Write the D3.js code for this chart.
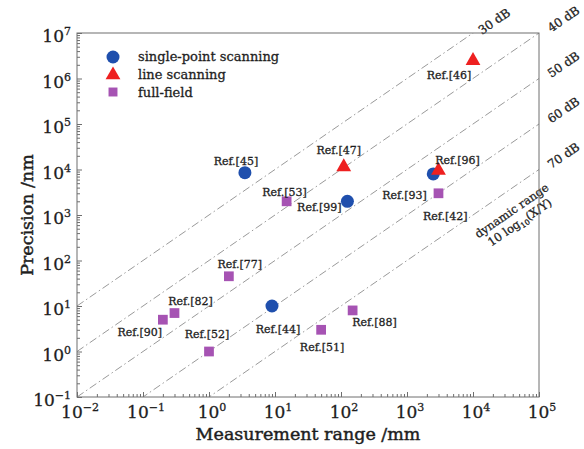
<!DOCTYPE html>
<html>
<head>
<meta charset="utf-8">
<script src="https://cdn.jsdelivr.net/npm/d3@7"></script>
<style>
  body { margin: 0; background: #fff; }
  text { font-family: "DejaVu Serif", serif; fill: #1e1e1e; stroke: #1e1e1e; stroke-width: 0.3px; }
  text.title { stroke-width: 0.45px; }
</style>
</head>
<body>
<svg id="chart" width="584" height="449"></svg>
<script>
// data (x in mm, y in nm)
var singleX = [3.5, 125, 2500, 9];
var singleY = [8500, 2000, 8000, 10];
var singleRef = ["Ref.[45]", "Ref.[99]", "Ref.[42]", "Ref.[44]"];

var lineX = [110, 10000, 3000];
var lineY = [12000, 2600000, 10000];
var lineRef = ["Ref.[47]", "Ref.[46]", "Ref.[96]"];

var fullX = [15, 3000, 2, 0.3, 0.2, 1, 50, 150];
var fullY = [2000, 3000, 45, 7, 5, 1, 3, 8];
var fullRef = ["Ref.[53]", "Ref.[93]", "Ref.[77]", "Ref.[82]", "Ref.[90]", "Ref.[52]", "Ref.[51]", "Ref.[88]"];

var dbLevels = [30, 40, 50, 60, 70];
var xTickExp = [-2, -1, 0, 1, 2, 3, 4, 5];
var yTickExp = [-1, 0, 1, 2, 3, 4, 5, 6, 7];
var legendNames = ["single-point scanning", "line scanning", "full-field"];

// label offsets from the mark (layout only)
var labelOffset = {
    "Ref.[45]": [-9, -8], "Ref.[99]": [-28, 10], "Ref.[42]": [12, 46], "Ref.[44]": [6, 27],
    "Ref.[47]": [-5, -12], "Ref.[46]": [-24, 19], "Ref.[96]": [19, -6],
    "Ref.[53]": [-2, -5], "Ref.[93]": [-34, 6], "Ref.[77]": [11, -8], "Ref.[82]": [16, -8],
    "Ref.[90]": [-23, 16], "Ref.[52]": [-2, -14], "Ref.[51]": [1, 21], "Ref.[88]": [22, 16]
};

var blue = "#1f4fad", red = "#ee2020", purple = "#a653b3";

var svg = d3.select("#chart");
var margin = {left: 77, right: 45, top: 33, bottom: 52};
var W = 584, H = 449;

var x = d3.scaleLog().domain([1e-2, 1e5]).range([margin.left, W - margin.right]);
var y = d3.scaleLog().domain([1e-1, 1e7]).range([H - margin.bottom, margin.top]);

svg.append("clipPath").attr("id", "plotclip")
    .append("rect")
    .attr("x", margin.left).attr("y", margin.top)
    .attr("width", x.range()[1] - margin.left)
    .attr("height", y.range()[0] - margin.top);

// dynamic range lines: y(nm) = x(mm)*1e6 / 10^(dB/10)
function dbY(xv, db) { return xv * 1e6 / Math.pow(10, db / 10); }

svg.append("g")
    .attr("clip-path", "url(#plotclip)")
    .selectAll("line")
    .data(dbLevels)
    .enter()
    .append("line")
    .attr("x1", x(1e-2))
    .attr("y1", function(d) { return y(dbY(1e-2, d)); })
    .attr("x2", x(1e5))
    .attr("y2", function(d) { return y(dbY(1e5, d)); })
    .attr("stroke", "#9a9a9a")
    .attr("stroke-width", 1)
    .attr("stroke-dasharray", "8,3,1.5,3");

var angle = Math.atan2(y(10) - y(1), x(10) - x(1)) * 180 / Math.PI;

// dB labels along the extension of each line
svg.selectAll("text.db")
    .data(dbLevels)
    .enter()
    .append("text")
    .attr("class", "db")
    .attr("transform", function(d) {
        var xv = d == 30 ? Math.pow(10, 4.3) : Math.pow(10, 5.35);
        return "translate(" + x(xv) + "," + y(dbY(xv, d)) + ") rotate(" + angle + ")";
    })
    .attr("text-anchor", "middle")
    .attr("dy", "0.55em")
    .attr("font-size", "12px")
    .text(function(d) { return d + " dB"; });

// dynamic range caption
var cap = svg.append("g")
    .attr("transform", "translate(514,214) rotate(" + angle + ")");
cap.append("text")
    .attr("text-anchor", "middle")
    .attr("font-size", "11.5px")
    .text("dynamic range");
var cap2 = cap.append("text")
    .attr("text-anchor", "middle")
    .attr("y", 14)
    .attr("font-size", "11.5px");
cap2.append("tspan").text("10 log");
cap2.append("tspan").attr("font-size", "7.5px").attr("dy", 3).text("10");
cap2.append("tspan").attr("dy", -3).text("(X/Y)");

// frame
svg.append("rect")
    .attr("x", margin.left).attr("y", margin.top)
    .attr("width", x.range()[1] - margin.left)
    .attr("height", y.range()[0] - margin.top)
    .attr("fill", "none")
    .attr("stroke", "#6e6e6e")
    .attr("stroke-width", 1);

// axes: inward ticks, major and minor
function minorVals(scale) {
    return scale.ticks().filter(function(v) {
        var e = Math.log10(v);
        return Math.abs(e - Math.round(e)) > 1e-6;
    });
}

var xAxisMajor = d3.axisBottom(x).tickValues(xTickExp.map(function(e) { return Math.pow(10, e); }))
    .tickSizeInner(-5).tickSizeOuter(0).tickFormat("");
var xAxisMinor = d3.axisBottom(x).tickValues(minorVals(x))
    .tickSizeInner(-3).tickSizeOuter(0).tickFormat("");
var yAxisMajor = d3.axisLeft(y).tickValues(yTickExp.map(function(e) { return Math.pow(10, e); }))
    .tickSizeInner(-5).tickSizeOuter(0).tickFormat("");
var yAxisMinor = d3.axisLeft(y).tickValues(minorVals(y))
    .tickSizeInner(-3).tickSizeOuter(0).tickFormat("");

[xAxisMajor, xAxisMinor].forEach(function(ax) {
    svg.append("g")
        .attr("class", "x axis")
        .attr("transform", "translate(0," + y.range()[0] + ")")
        .call(ax);
});
[yAxisMajor, yAxisMinor].forEach(function(ax) {
    svg.append("g")
        .attr("class", "y axis")
        .attr("transform", "translate(" + margin.left + ",0)")
        .call(ax);
});
svg.selectAll(".axis path").remove();
svg.selectAll(".axis line").attr("stroke", "#6e6e6e");

function powLabel(sel, e) {
    sel.append("tspan").text("10");
    sel.append("tspan").attr("dy", -7).attr("font-size", "11px")
        .text(e < 0 ? "\u2212" + (-e) : "" + e);
}

svg.selectAll("text.xtick")
    .data(xTickExp)
    .enter()
    .append("text")
    .attr("class", "xtick")
    .attr("x", function(e) { return x(Math.pow(10, e)) + 3; })
    .attr("y", y.range()[0] + 21)
    .attr("text-anchor", "middle")
    .attr("font-size", "17px")
    .each(function(e) { powLabel(d3.select(this), e); });

svg.selectAll("text.ytick")
    .data(yTickExp)
    .enter()
    .append("text")
    .attr("class", "ytick")
    .attr("x", margin.left - 6)
    .attr("y", function(e) { return y(Math.pow(10, e)) + 9; })
    .attr("text-anchor", "end")
    .attr("font-size", "17px")
    .each(function(e) { powLabel(d3.select(this), e); });

// axis titles
svg.append("text")
    .attr("class", "title")
    .attr("x", (x.range()[0] + x.range()[1]) / 2)
    .attr("y", 440)
    .attr("text-anchor", "middle")
    .attr("font-size", "17.5px")
    .text("Measurement range /mm");

svg.append("text")
    .attr("class", "title")
    .attr("transform", "translate(33," + ((y.range()[0] + y.range()[1]) / 2) + ") rotate(-90)")
    .attr("text-anchor", "middle")
    .attr("font-size", "17.5px")
    .text("Precision /nm");

// marks
var tri = d3.symbol().type(d3.symbolTriangle).size(95);
var sq = d3.symbol().type(d3.symbolSquare).size(95);

function rows(xs, ys, refs) {
    return xs.map(function(v, i) { return {x: v, y: ys[i], ref: refs[i]}; });
}
var singleData = rows(singleX, singleY, singleRef);
var lineData = rows(lineX, lineY, lineRef);
var fullData = rows(fullX, fullY, fullRef);

svg.selectAll("path.full")
    .data(fullData)
    .enter()
    .append("path")
    .attr("class", "full")
    .attr("d", sq)
    .attr("transform", function(d) { return "translate(" + x(d.x) + "," + y(d.y) + ")"; })
    .attr("fill", purple);

svg.selectAll("circle.single")
    .data(singleData)
    .enter()
    .append("circle")
    .attr("class", "single")
    .attr("cx", function(d) { return x(d.x); })
    .attr("cy", function(d) { return y(d.y); })
    .attr("r", 6.5)
    .attr("fill", blue);

svg.selectAll("path.linescan")
    .data(lineData)
    .enter()
    .append("path")
    .attr("class", "linescan")
    .attr("d", tri)
    .attr("transform", function(d) { return "translate(" + x(d.x) + "," + (y(d.y) + 1) + ")"; })
    .attr("fill", red);

// reference labels
svg.selectAll("text.ref")
    .data(singleData.concat(lineData, fullData))
    .enter()
    .append("text")
    .attr("class", "ref")
    .attr("x", function(d) { return x(d.x) + labelOffset[d.ref][0]; })
    .attr("y", function(d) { return y(d.y) + labelOffset[d.ref][1]; })
    .attr("text-anchor", "middle")
    .attr("font-size", "11px")
    .text(function(d) { return d.ref; });

// legend
var legend = svg.append("g").attr("transform", "translate(113,57)");
legend.append("circle").attr("cx", 0).attr("cy", 0).attr("r", 6.5).attr("fill", blue);
legend.append("path").attr("d", tri).attr("transform", "translate(0,18)").attr("fill", red);
legend.append("path").attr("d", d3.symbol().type(d3.symbolSquare).size(80)).attr("transform", "translate(0,35)").attr("fill", purple);
legend.selectAll("text")
    .data(legendNames)
    .enter()
    .append("text")
    .attr("x", 25)
    .attr("y", function(d, i) { return 4 + i * 18; })
    .attr("font-size", "13px")
    .text(function(d) { return d; });
</script>
</body>
</html>
